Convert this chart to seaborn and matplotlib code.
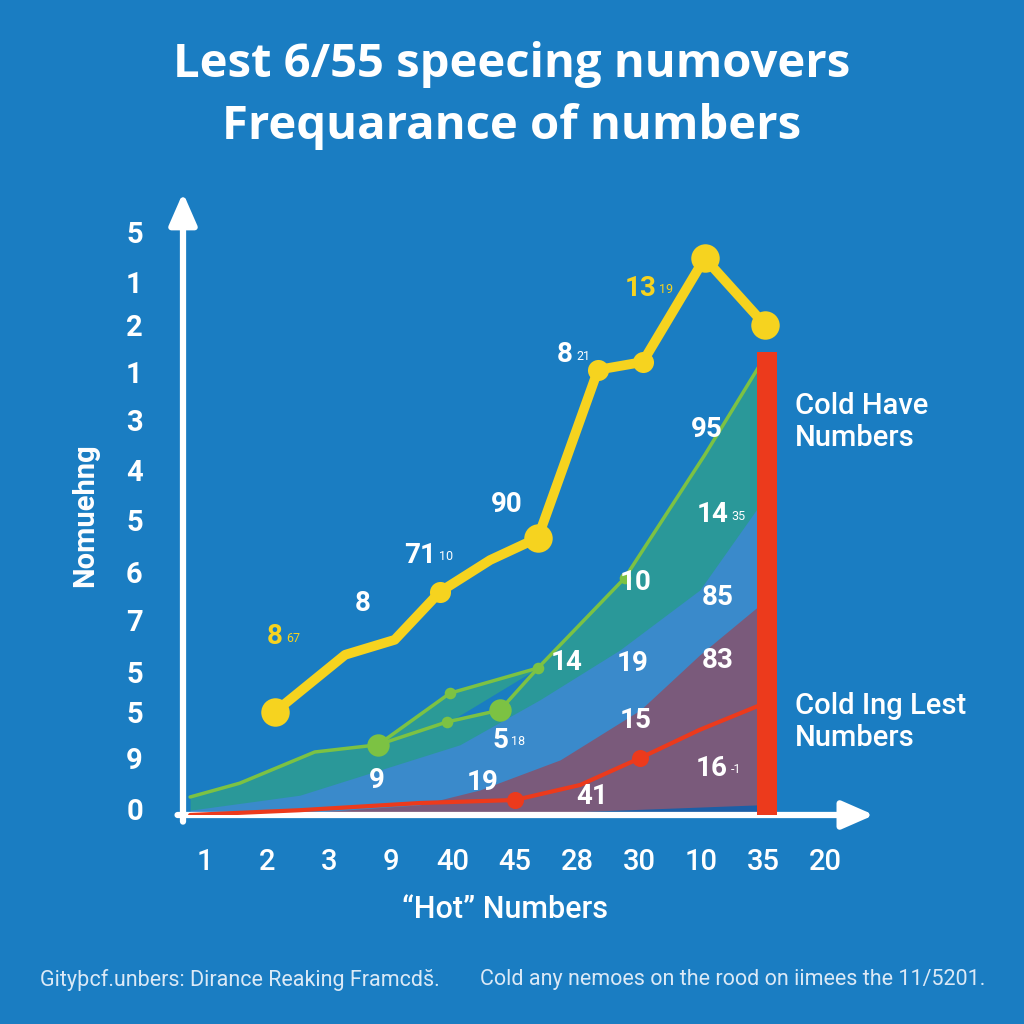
import matplotlib
matplotlib.use("Agg")
import matplotlib.pyplot as plt
import numpy as np
import pandas as pd
import seaborn as sns

# x ticks (category positions 0..10)
x_labels = ["1", "2", "3", "9", "40", "45", "28", "30", "10", "35", "20"]
# y ticks (odd labels as drawn)
y_ticks = [96.7, 88.8, 81.7, 73.8, 65.8, 57.5, 49.2, 40.5, 32.5, 23.8, 17.2, 9.5, 0.5]
y_labels = ["5", "1", "2", "1", "3", "4", "5", "6", "7", "5", "5", "9", "0"]

# "hot" yellow line
hot_x = [1.13, 2.26, 3.06, 3.79, 4.6, 5.37, 6.34, 7.06, 8.06, 9.03]
hot_y = [17.2, 26.7, 29.2, 37.2, 42.5, 46.2, 74.2, 75.5, 92.8, 81.7]

# green line and its upper branch
green_x = [-0.24, 0.56, 1.77, 2.79, 3.9, 4.76, 5.37, 6.77, 8.06, 8.95]
green_y = [3.0, 5.3, 10.5, 11.7, 15.5, 17.5, 24.5, 39.5, 60.0, 75.0]
branch_x = [2.79, 3.95, 5.37]
branch_y = [11.7, 20.3, 24.5]

# layered areas
blue_x = [-0.24, 1.53, 2.82, 4.11, 5.4, 6.69, 7.98, 8.95]
blue_y = [0.8, 3.3, 7.5, 11.7, 19.2, 27.5, 37.5, 51.7]
mauve_x = [-0.24, 1.53, 3.47, 4.44, 5.73, 7.02, 7.98, 8.95]
mauve_y = [0.0, 0.3, 1.7, 4.2, 9.2, 17.5, 26.7, 35.0]
dark_x = [4.6, 8.95]
dark_y = [0.0, 1.7]

# "cold" red line
cold_x = [-0.24, 1.53, 3.47, 5.0, 6.05, 7.02, 7.98, 8.95]
cold_y = [0.0, 0.8, 2.0, 2.5, 5.0, 9.5, 14.2, 18.3]
cold_marks = [3, 5]

# red bar
bar_x = [9.06]
bar_h = [77.2]

# number labels in the plot
lab_big = ["8", "71", "90", "8", "95", "14", "10", "85", "14", "19", "83", "5", "15", "9", "19", "41", "16", "8", "13"]
lab_small = ["", "10", "", "21", "", "35", "", "", "", "", "", "18", "", "", "", "", "-1", "67", "19"]
lab_x = [2.55, 3.47, 4.87, 5.81, 8.10, 8.18, 6.94, 8.27, 5.84, 6.89, 8.27, 4.76, 6.94, 2.77, 4.48, 6.24, 8.18, 1.13, 7.02]
lab_y = [35.3, 43.3, 51.7, 76.7, 64.2, 50.0, 38.7, 36.3, 25.5, 25.3, 25.8, 12.5, 15.8, 5.8, 5.5, 3.0, 7.8, 29.7, 87.8]
lab_yellow = [False] * 17 + [True, True]

BG = "#1a7dc2"
YELLOW = "#f6d31f"
GREEN = "#7cc243"
RED = "#ec3a1c"
NARROW = ["Roboto", "DejaVu Sans"]
SANS = ["Open Sans", "DejaVu Sans"]

sns.set_theme(style="white")
plt.rcParams["font.family"] = SANS

fig = plt.figure(figsize=(10.24, 10.24), dpi=100, facecolor=BG)
ax = fig.add_axes([183 / 1024, 1 - 815 / 1024, (870 - 183) / 1024, (815 - 190) / 1024])
ax.set_facecolor(BG)
ax.set_xlim(-22 / 62, 665 / 62)
ax.set_ylim(0, 625 / 6)

ax.fill_between(green_x, 0, green_y, color="#2b9a97", alpha=0.95, lw=0, zorder=1)
ax.fill_between(branch_x, np.interp(branch_x, green_x, green_y), branch_y, color="#2b9a97", lw=0, zorder=1)
ax.fill_between(blue_x, 0, blue_y, color="#3a8acb", lw=0, zorder=2)
ax.fill_between(mauve_x, 0, mauve_y, color="#7a5a7b", lw=0, zorder=3)
ax.fill_between(dark_x, 0, dark_y, color="#1c5fa6", lw=0, zorder=3)

green_df = pd.DataFrame({"x": green_x, "y": green_y})
sns.lineplot(data=green_df, x="x", y="y", ax=ax, color=GREEN, lw=2.5, sort=False, zorder=4)
sns.lineplot(x=branch_x, y=branch_y, ax=ax, color=GREEN, lw=2.5, sort=False, zorder=4)
ax.scatter([green_x[3], green_x[5]], [green_y[3], green_y[5]], s=260, color=GREEN, lw=0, zorder=5)
ax.scatter([green_x[4], green_x[6], green_x[7], branch_x[1]], [green_y[4], green_y[6], green_y[7], branch_y[1]],
           s=70, color=GREEN, lw=0, zorder=5)

cold_df = pd.DataFrame({"x": cold_x, "y": cold_y})
sns.lineplot(data=cold_df, x="x", y="y", ax=ax, color=RED, lw=3, sort=False, zorder=6)
ax.scatter([cold_x[i] for i in cold_marks], [cold_y[i] for i in cold_marks], s=150, color=RED, lw=0, zorder=6)

ax.bar(bar_x, bar_h, width=20 / 62, color=RED, edgecolor="none", linewidth=0, zorder=7)

hot_df = pd.DataFrame({"x": hot_x, "y": hot_y})
sns.lineplot(data=hot_df, x="x", y="y", ax=ax, color=YELLOW, lw=7, sort=False, zorder=8,
             solid_joinstyle="round", solid_capstyle="round")
ax.scatter([hot_x[i] for i in [0, 5, 8, 9]], [hot_y[i] for i in [0, 5, 8, 9]], s=420, color=YELLOW, lw=0, zorder=9)
ax.scatter([hot_x[i] for i in [3, 6, 7]], [hot_y[i] for i in [3, 6, 7]], s=230, color=YELLOW, lw=0, zorder=9)

for b, s, x, y, yel in zip(lab_big, lab_small, lab_x, lab_y, lab_yellow):
    c = YELLOW if yel else "white"
    t = ax.text(x, y, b, color=c, fontsize=20, fontweight="bold", family=NARROW,
                ha="center", va="center", zorder=10)
    if s:
        ax.annotate(s, xy=(1, 0.2), xycoords=t, xytext=(2, 0), textcoords="offset points",
                    color=c, fontsize=9, family=NARROW, ha="left", va="bottom", zorder=10)

# axes with arrows
for sp in ax.spines.values():
    sp.set_visible(False)
ax.annotate("", xy=(0, 1.0), xycoords="axes fraction", xytext=(0, -0.015),
            arrowprops=dict(arrowstyle="-|>,head_length=1.6,head_width=0.7", color="white", lw=4.5))
ax.annotate("", xy=(1.01, 0), xycoords="axes fraction", xytext=(-0.012, 0),
            arrowprops=dict(arrowstyle="-|>,head_length=1.6,head_width=0.7", color="white", lw=4.5))

ax.set_xticks(range(len(x_labels)))
ax.set_xticklabels(x_labels, color="white", fontsize=21, family=NARROW, fontweight="medium")
ax.tick_params(axis="x", length=0, pad=24)
ax.set_yticks(y_ticks[1:-1], minor=False)
ax.set_yticklabels(y_labels[1:-1], color="white", fontsize=21, family=NARROW, fontweight="bold")
ax.tick_params(axis="y", length=14, width=4, color="white", direction="inout", pad=22)
ax.text(-0.07, y_ticks[0] / 104.17, y_labels[0], transform=ax.transAxes, color="white",
        fontsize=21, family=NARROW, fontweight="bold", ha="center", va="center")
ax.text(-0.07, y_ticks[-1] / 104.17, y_labels[-1], transform=ax.transAxes, color="white",
        fontsize=21, family=NARROW, fontweight="bold", ha="center", va="center")
ax.set_xlabel("")
ax.set_ylabel("")

fig.text(505 / 1024, 1 - 910 / 1024, "“Hot” Numbers", color="white", fontsize=22,
         family=NARROW, fontweight="medium", ha="center", va="center")
fig.text(85 / 1024, 1 - 515 / 1024, "Nomuehng", color="white", fontsize=21, fontweight="bold",
         family=NARROW, rotation=90, ha="center", va="center")
fig.text(795 / 1024, 1 - 422 / 1024, "Cold Have\nNumbers", color="white", fontsize=21,
         family=NARROW, fontweight="medium", ha="left", va="center", linespacing=1.15)
fig.text(795 / 1024, 1 - 722 / 1024, "Cold Ing Lest\nNumbers", color="white", fontsize=21,
         family=NARROW, fontweight="medium", ha="left", va="center", linespacing=1.15)

fig.text(0.5, 1 - 65 / 1024, "Lest 6/55 speecing numovers", color="white", fontsize=34,
         fontweight="bold", ha="center", va="center")
fig.text(0.5, 1 - 127 / 1024, "Frequarance of numbers", color="white", fontsize=34,
         fontweight="bold", ha="center", va="center")

fig.text(40 / 1024, 1 - 980 / 1024, "Gityþcf.unbers: Dirance Reaking Framcds̆.", color="#dbe9f6",
         fontsize=15.5, family=NARROW, ha="left", va="center")
fig.text(985 / 1024, 1 - 980 / 1024, "Cold any nemoes on the rood on iimees the 11/5201.", color="#dbe9f6",
         fontsize=15.5, family=NARROW, ha="right", va="center")

fig.savefig("out.png", dpi=100, facecolor=BG)
